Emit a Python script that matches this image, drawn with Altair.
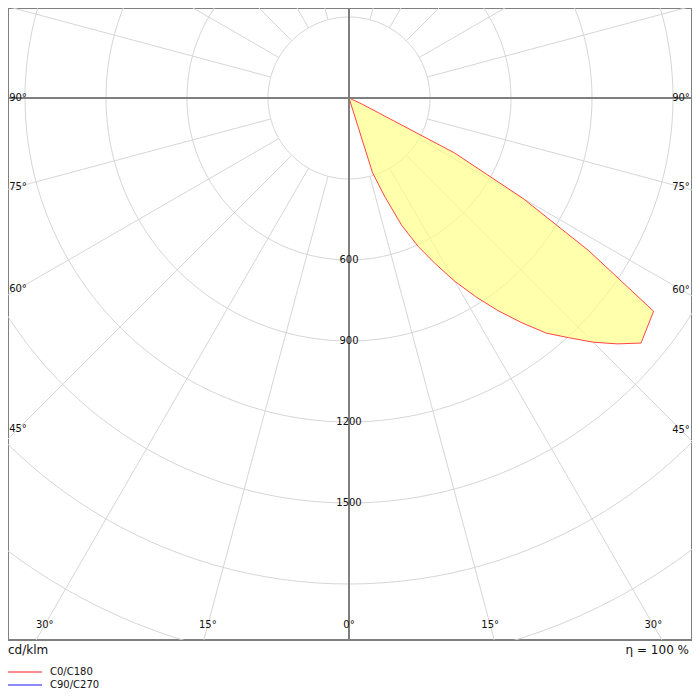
import math
import altair as alt
import pandas as pd

# ---------------- data ----------------
# C0 half-plane: gamma (deg from nadir) and luminous intensity (cd/klm)
c0_gamma = [0, 15, 17.5, 20, 22.5, 25, 27.5, 30, 32.5, 35, 37.5, 40, 42.5, 45,
            47.5, 50, 52.5, 55, 57.5, 60, 62.5, 65, 67.5, 70, 75, 80, 85, 90]
c0_value = [0, 0, 290, 391, 511, 607, 692, 784, 872, 961, 1048, 1137, 1204, 1279,
            1348, 1412, 1393, 1377, 1053, 745, 440, 50, 0, 0, 0, 0, 0, 0]
c180_gamma = [0, 15, 30, 45, 60, 75, 90]
c180_value = [0, 0, 0, 0, 0, 0, 0]
c90_gamma = [0, 15, 30, 45, 60, 75, 90]
c90_value = [0, 0, 0, 0, 0, 0, 0]
c270_value = [0, 0, 0, 0, 0, 0, 0]

ring_values = [300, 600, 900, 1200, 1500, 1800, 2100, 2400]
ring_labels = [600, 900, 1200, 1500]
spoke_step = 15
angle_labels = [0, 15, 30, 45, 60, 75, 90]
legend_names = ["C0/C180", "C90/C270"]
legend_colors = ["#ff8a8a", "#8a8aff"]
unit_text = "cd/klm"
eta_text = "η = 100 %"

# ---------------- geometry of the frame ----------------
W, H = 684, 632
CX, CY = 341, 90
K = 81 / 300.0  # pixels per cd/klm
x_min, x_max = -CX / K, (W - CX) / K
y_min, y_max = -(H - CY) / K, CY / K
LEFT_INSET, RIGHT_INSET, BOTTOM_INSET = 10, 11, 15

xs = alt.Scale(domain=[x_min, x_max], nice=False, zero=False)
ys = alt.Scale(domain=[y_min, y_max], nice=False, zero=False)
X = lambda f: alt.X(f, type="quantitative", scale=xs, axis=None)
Y = lambda f: alt.Y(f, type="quantitative", scale=ys, axis=None)

def pol(r, g, side):
    a = math.radians(g)
    return side * r * math.sin(a), -r * math.cos(a)

# rings
rows = []
for r in ring_values:
    for i, t in enumerate(range(0, 361, 2)):
        a = math.radians(t)
        rows.append({"ring": r, "i": i, "x": r * math.sin(a), "y": r * math.cos(a)})
rings_df = pd.DataFrame(rows)

# spokes
rows = []
r_out = 3000
for t in range(0, 360, spoke_step):
    a = math.radians(t)
    rows.append({"x": 300 * math.sin(a), "y": 300 * math.cos(a),
                 "x2": r_out * math.sin(a), "y2": r_out * math.cos(a)})
spokes_df = pd.DataFrame(rows)

# curves
def curve(g_left, v_left, g_right, v_right):
    pts = []
    for g, v in reversed(list(zip(g_left, v_left))):
        pts.append(pol(v, g, -1))
    for g, v in zip(g_right, v_right):
        pts.append(pol(v, g, 1))
    return pd.DataFrame({"i": range(len(pts)), "x": [p[0] for p in pts], "y": [p[1] for p in pts]})

c0_df = curve(c180_gamma, c180_value, c0_gamma, c0_value)
c90_df = curve(c90_gamma, c270_value, c90_gamma, c90_value)

# axes lines
axes_df = pd.DataFrame({"x": [x_min - 50, 0], "x2": [x_max + 50, 0],
                        "y": [0, y_max + 50], "y2": [0, y_min - 50]})

# ring labels
rl_df = pd.DataFrame({"x": [0] * len(ring_labels), "y": [-v for v in ring_labels],
                      "t": [str(v) for v in ring_labels]})

# angle labels
rows = []
for s in (-1, 1):
    for g in angle_labels:
        if g == 0 and s == -1:
            continue
        dx, dy = s * math.sin(math.radians(g)), -math.cos(math.radians(g))
        xl = (x_max - RIGHT_INSET / K) if s > 0 else (x_min + LEFT_INSET / K)
        yl = y_min + BOTTOM_INSET / K
        t1 = xl / dx if abs(dx) > 1e-9 else float("inf")
        t2 = yl / dy if abs(dy) > 1e-9 else float("inf")
        t = min(t1, t2)
        rows.append({"x": dx * t, "y": dy * t, "t": f"{g}°"})
al_df = pd.DataFrame(rows)

FONT = "DejaVu Sans"

rings = alt.Chart(rings_df).mark_line(color="#d6d6d6", strokeWidth=1, clip=True).encode(
    x=X("x"), y=Y("y"), detail="ring:N", order="i:Q")
spokes = alt.Chart(spokes_df).mark_rule(color="#d6d6d6", strokeWidth=1, clip=True).encode(
    x=X("x"), y=Y("y"), x2="x2:Q", y2="y2:Q")
c0 = alt.Chart(c0_df).mark_line(fill="#ffff80", fillOpacity=0.65, stroke="#ff4545",
                                strokeWidth=1, clip=True).encode(x=X("x"), y=Y("y"), order="i:Q")
c90 = alt.Chart(c90_df).mark_line(stroke="#6a5acd", strokeWidth=2.5, strokeCap="round",
                                  clip=True).encode(x=X("x"), y=Y("y"), order="i:Q")
axes = alt.Chart(axes_df).mark_rule(color="#7f7f7f", strokeWidth=2, clip=True).encode(
    x=X("x"), y=Y("y"), x2="x2:Q", y2="y2:Q")
rlab = alt.Chart(rl_df).mark_text(font=FONT, fontSize=10, color="#111", align="center",
                                  baseline="middle").encode(x=X("x"), y=Y("y"), text="t:N")
alab = alt.Chart(al_df).mark_text(font=FONT, fontSize=10, color="#111", align="center",
                                  baseline="middle").encode(x=X("x"), y=Y("y"), text="t:N")

unit = alt.Chart(pd.DataFrame({"t": [unit_text]})).mark_text(
    font=FONT, fontSize=12, color="#111", align="left", baseline="middle").encode(
    x=alt.value(0), y=alt.value(642), text="t:N")
eta = alt.Chart(pd.DataFrame({"t": [eta_text]})).mark_text(
    font=FONT, fontSize=12, color="#111", align="right", baseline="middle").encode(
    x=alt.value(681), y=alt.value(642), text="t:N")

leg_layers = []
for k, (name, col) in enumerate(zip(legend_names, legend_colors)):
    yy = 664 + 13 * k
    leg_layers.append(alt.Chart(pd.DataFrame({"t": [name]})).mark_rule(
        color=col, strokeWidth=2).encode(x=alt.value(-1), x2=alt.value(34), y=alt.value(yy)))
    leg_layers.append(alt.Chart(pd.DataFrame({"t": [name]})).mark_text(
        font=FONT, fontSize=10, color="#111", align="left", baseline="middle").encode(
        x=alt.value(42), y=alt.value(yy), text="t:N"))

chart = alt.layer(rings, spokes, c0, c90, axes, rlab, alab, unit, eta, *leg_layers).properties(
    width=W, height=H,
    autosize=alt.AutoSizeParams(type="none"),
    padding={"left": 0, "top": 0, "right": 0, "bottom": 51},
).configure_view(stroke="#7f7f7f", strokeWidth=2)

chart.save("out.html", embed_options={"renderer": "svg", "actions": False})
